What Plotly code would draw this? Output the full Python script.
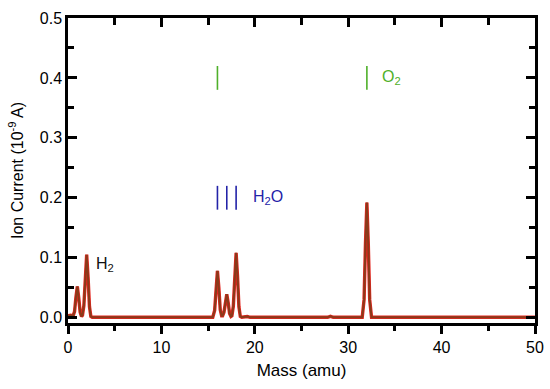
import plotly.graph_objects as go

# Mass spectrum (amu vs ion current, 1e-9 A)
mass = [0, 0.3, 0.55, 0.7, 0.85, 1.0, 1.15, 1.3, 1.45, 1.55, 1.7, 1.85, 2.0, 2.15, 2.3, 2.45, 2.6,
        10, 15.5, 15.7, 15.85, 16.0, 16.15, 16.3, 16.45, 16.55, 16.7, 16.85, 17.0, 17.15, 17.3, 17.45,
        17.55, 17.7, 17.85, 18.0, 18.15, 18.3, 18.45, 18.6, 19.0, 19.2, 19.5, 27.8, 28.1, 28.4,
        31.5, 31.7, 31.85, 32.0, 32.15, 32.3, 32.5, 33.9, 34.1, 34.3, 50]
current = [0.003, 0.004, 0.003, 0.010, 0.034, 0.052, 0.033, 0.009, 0.002, 0.004, 0.020, 0.068, 0.105, 0.067, 0.018, 0.002, 0.0005,
           0.0005, 0.0005, 0.012, 0.050, 0.078, 0.050, 0.013, 0.003, 0.003, 0.009, 0.026, 0.039, 0.025, 0.007, 0.002,
           0.003, 0.019, 0.070, 0.108, 0.069, 0.018, 0.002, 0.0008, 0.0015, 0.0018, 0.0005, 0.0005, 0.002, 0.0005,
           0.0005, 0.030, 0.123, 0.192, 0.123, 0.030, 0.0005, 0.0005, 0.0015, 0.0005, 0.0005]

h2o_marks = [16, 17, 18]
h2o_level = 0.2
o2_marks = [16, 32]
o2_level = 0.4

labels = [
    dict(text="H<sub>2</sub>", x=4.0, y=0.088, color="#111111"),
    dict(text="H<sub>2</sub>O", x=21.4, y=0.2, color="#2323a8"),
    dict(text="O<sub>2</sub>", x=34.6, y=0.4, color="#4fb02a"),
]

FONT = "Liberation Sans, Arial"

fig = go.Figure()
fig.add_trace(go.Scatter(x=mass, y=current, mode="lines",
                         line=dict(color="#e3261f", width=3.4), hoverinfo="skip", showlegend=False))
fig.add_trace(go.Scatter(x=mass, y=current, mode="lines",
                         line=dict(color="#8a3a1a", width=2.0), showlegend=False))
fig.add_trace(go.Scatter(x=h2o_marks, y=[h2o_level] * len(h2o_marks), mode="markers",
                         marker=dict(symbol="line-ns", size=17, line=dict(color="#2323a8", width=1.6)),
                         showlegend=False))
fig.add_trace(go.Scatter(x=o2_marks, y=[o2_level] * len(o2_marks), mode="markers",
                         marker=dict(symbol="line-ns", size=17, line=dict(color="#4fb02a", width=1.6)),
                         showlegend=False))
# invisible trace for top axis
fig.add_trace(go.Scatter(x=[0, 50], y=[0, 0], xaxis="x2", mode="lines",
                         line=dict(width=0), hoverinfo="skip", showlegend=False))

for lb in labels:
    fig.add_annotation(x=lb["x"], y=lb["y"], text=lb["text"], showarrow=False,
                       font=dict(size=16, color=lb["color"], family=FONT))

axis_font = dict(family=FONT, size=16, color="black")
fig.update_layout(
    width=550, height=389,
    margin=dict(l=68, r=15, t=18, b=66),
    paper_bgcolor="white", plot_bgcolor="white",
    font=dict(family=FONT, color="black"),
    xaxis=dict(range=[0, 50], dtick=10, tick0=0, ticks="outside", ticklen=8, tickwidth=2.5,
               tickcolor="black", showline=True, linecolor="black", linewidth=2.5,
               mirror=True, showgrid=False, zeroline=False, tickfont=axis_font, automargin=False,
               minor=dict(dtick=5, ticks="outside", ticklen=5, tickwidth=2.5, tickcolor="black"),
               title=dict(text="Mass (amu)", font=dict(size=17, family=FONT), standoff=10)),
    xaxis2=dict(range=[0, 50], overlaying="x", side="top", dtick=10, tick0=0, ticks="inside",
                ticklen=9, tickwidth=2.5, tickcolor="black", showticklabels=False, showgrid=False,
                zeroline=False, showline=False, automargin=False,
                minor=dict(dtick=5, ticks="inside", ticklen=7, tickwidth=2.5, tickcolor="black")),
    yaxis=dict(range=[-0.009, 0.5], dtick=0.1, tick0=0, tickformat=".1f", ticks="inside", ticklen=9,
               tickwidth=2.5, tickcolor="black", showline=True, linecolor="black", linewidth=2.5,
               mirror="ticks", showgrid=False, zeroline=False, tickfont=axis_font, automargin=False,
               minor=dict(dtick=0.05, ticks="inside", ticklen=6, tickwidth=2.5, tickcolor="black"),
               title=dict(text="Ion Current (10<sup>-9</sup> A)", font=dict(size=16, family=FONT),
                          standoff=13)),
)

fig.write_html(
    "out.html",
    config={"displayModeBar": False},
    post_script="document.body.style.margin='0';document.documentElement.style.overflow='hidden';document.body.style.overflow='hidden';",
)
